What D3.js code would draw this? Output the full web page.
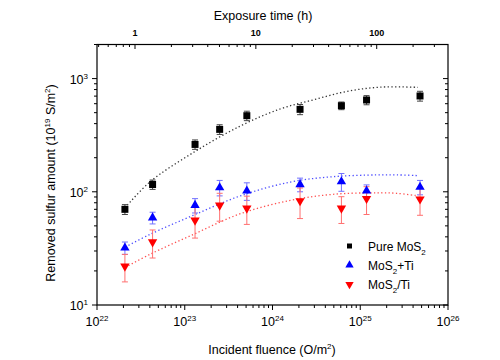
<!DOCTYPE html>
<html><head><meta charset="utf-8">
<script src="https://cdn.jsdelivr.net/npm/d3@7"></script>
<style>body{margin:0;background:#fff}svg{display:block}text{font-family:"Liberation Sans",Arial,sans-serif;fill:#000}</style>
</head><body><div id="c"></div>
<script>
// ---- data ----
const fluence = [2.08e22, 4.3e22, 1.31e23, 2.5e23, 5.1e23, 2.06e24, 6.1e24, 1.18e25, 4.8e25];
const pureMoS2 = [70, 116, 262, 356, 470, 535, 576, 647, 702];
const pureErr  = [7, 11, 25, 35, 45, 55, 45, 60, 70];
const mosTi    = [32, 59, 76, 109, 102, 116, 123, 102, 110];
const mosTiErr = [4, 7, 11, 17, 18, 16, 22, 13, 16];
const mosSlTi  = [22, 36, 56, 76, 71.5, 83, 71.5, 87, 86];
const mosSlTiErr = [6, 10, 17, 21, 20, 25, 19, 24, 24];
const fitXPure = [2.08e22, 4e22, 1.25e23, 4.27e23, 1.23e24, 2.95e24, 7.0e24, 1.7e25, 4.55e25];
const fitPure  = [72, 122, 222, 380, 540, 650, 770, 840, 837];
const fitX     = [2.1e22, 4e22, 1.25e23, 4.3e23, 1.6e24, 4.9e24, 1.55e25, 2.6e25, 4.6e25];
const fitTi    = [32.5, 42, 62, 92, 122, 136, 141, 141, 139];
const fitSlTi  = [21.5, 28, 42, 64, 84, 95, 98, 97, 92];
const xTickLabels = ["22", "23", "24", "25", "26"];
const yTickLabels = ["1", "2", "3"];
const hourTickLabels = ["1", "10", "100"];
const legendLabels = [["Pure MoS", "2", ""], ["MoS", "2", "+Ti"], ["MoS", "2", "/Ti"]];

// ---- layout ----
const W = 500, H = 360;
const L = 97, R = 448, T = 44.5, B = 305;
const svg = d3.select("#c").append("svg").attr("width", W).attr("height", H);

const x = d3.scaleLog().domain([1e22, 1e26]).range([L, R]);
const y = d3.scaleLog().domain([10, 2000]).range([B, T]);
const xh = d3.scaleLog().domain([0.4848, 389]).range([L, R]);

function logTicks(lo, hi) {
  const out = [];
  for (let e = Math.floor(Math.log10(lo)); e <= Math.ceil(Math.log10(hi)); e++) {
    for (let m = 1; m <= 9; m++) {
      const v = m * Math.pow(10, e);
      if (v >= lo * 0.9999 && v <= hi * 1.0001) out.push({v, major: m === 1});
    }
  }
  return out;
}

const g = svg.append("g");
g.append("rect").attr("x", L).attr("y", T).attr("width", R - L).attr("height", B - T)
  .attr("fill", "none").attr("stroke", "#000").attr("stroke-width", 1.2);

logTicks(1e22, 1e26).forEach(t => {
  const px = x(t.v);
  g.append("line").attr("x1", px).attr("x2", px).attr("y1", B).attr("y2", B + (t.major ? 5 : 3))
    .attr("stroke", "#000").attr("stroke-width", 1);
});
logTicks(10, 2000).forEach(t => {
  const py = y(t.v);
  const len = t.major ? 5 : 3;
  g.append("line").attr("x1", L - len).attr("x2", L).attr("y1", py).attr("y2", py).attr("stroke", "#000");
  g.append("line").attr("x1", R - len).attr("x2", R).attr("y1", py).attr("y2", py).attr("stroke", "#000");
});
logTicks(0.4848, 389).forEach(t => {
  const px = xh(t.v);
  g.append("line").attr("x1", px).attr("x2", px).attr("y1", T).attr("y2", T + (t.major ? 4.5 : 2.5))
    .attr("stroke", "#000");
});

xTickLabels.forEach((s, i) => {
  const t = g.append("text").attr("x", x(Math.pow(10, 22 + i))).attr("y", 326)
    .attr("text-anchor", "middle").attr("font-size", 12.5);
  t.append("tspan").text("10");
  t.append("tspan").attr("dy", -5).attr("font-size", 8).text(s);
});
yTickLabels.forEach((s, i) => {
  const t = g.append("text").attr("x", 88).attr("y", y(Math.pow(10, 1 + i)) + 5)
    .attr("text-anchor", "end").attr("font-size", 12.5);
  t.append("tspan").text("10");
  t.append("tspan").attr("dy", -5).attr("font-size", 8).text(s);
});
hourTickLabels.forEach((s, i) => {
  g.append("text").attr("x", xh(Math.pow(10, i))).attr("y", 36)
    .attr("text-anchor", "middle").attr("font-size", 9).attr("font-weight", "bold").text(s);
});

g.append("text").attr("x", 263).attr("y", 20).attr("text-anchor", "middle").attr("font-size", 12.5)
  .text("Exposure time (h)");
{
  const t = g.append("text").attr("x", 272).attr("y", 354).attr("text-anchor", "middle").attr("font-size", 12.5);
  t.append("tspan").text("Incident fluence (O/m");
  t.append("tspan").attr("dy", -5).attr("font-size", 8).text("2");
  t.append("tspan").attr("dy", 5).text(")");
}
{
  const t = g.append("text").attr("transform", "translate(55,183) rotate(-90)")
    .attr("text-anchor", "middle").attr("font-size", 12.5);
  t.append("tspan").text("Removed sulfur amount (10");
  t.append("tspan").attr("dy", -5).attr("font-size", 8).text("19");
  t.append("tspan").attr("dy", 5).text(" S/m");
  t.append("tspan").attr("dy", -5).attr("font-size", 8).text("2");
  t.append("tspan").attr("dy", 5).text(")");
}

// fit lines
const line = d3.line().x(d => x(d[0])).y(d => y(d[1])).curve(d3.curveCatmullRom.alpha(0.5));
[[fitXPure, fitPure, "#333"], [fitX, fitTi, "#4d4dff"], [fitX, fitSlTi, "#ff5050"]].forEach(([xs, vals, col]) => {
  g.append("path").attr("d", line(xs.map((v, i) => [v, vals[i]])))
    .attr("fill", "none").attr("stroke", col).attr("stroke-width", 1.3)
    .attr("stroke-dasharray", "1.3,2.4");
});

function errBars(vals, errs, col) {
  vals.forEach((v, i) => {
    const px = x(fluence[i]);
    const y1 = y(v + errs[i]), y2 = y(v - errs[i]);
    g.append("line").attr("x1", px).attr("x2", px).attr("y1", y1).attr("y2", y2).attr("stroke", col).attr("stroke-width", 1);
    [y1, y2].forEach(yy => g.append("line").attr("x1", px - 3).attr("x2", px + 3).attr("y1", yy).attr("y2", yy)
      .attr("stroke", col).attr("stroke-width", 1));
  });
}
errBars(pureMoS2, pureErr, "#444");
errBars(mosTi, mosTiErr, "#7070ff");
errBars(mosSlTi, mosSlTiErr, "#ff7070");

const sq = d3.symbol().type(d3.symbolSquare).size(49);
const tri = d3.symbol().type(d3.symbolTriangle).size(38);
pureMoS2.forEach((v, i) => g.append("path").attr("d", sq()).attr("transform", `translate(${x(fluence[i])},${y(v)})`).attr("fill", "#000"));
mosTi.forEach((v, i) => g.append("path").attr("d", tri()).attr("transform", `translate(${x(fluence[i])},${y(v)})`).attr("fill", "#0000ff"));
mosSlTi.forEach((v, i) => g.append("path").attr("d", tri()).attr("transform", `translate(${x(fluence[i])},${y(v)}) rotate(180)`).attr("fill", "#ff0000"));

const legY = [246, 265, 284.5];
const legSyms = [
  {d: d3.symbol().type(d3.symbolSquare).size(25)(), fill: "#000", rot: 0},
  {d: d3.symbol().type(d3.symbolTriangle).size(30)(), fill: "#0000ff", rot: 0},
  {d: d3.symbol().type(d3.symbolTriangle).size(30)(), fill: "#ff0000", rot: 180}
];
legendLabels.forEach((lab, i) => {
  g.append("path").attr("d", legSyms[i].d).attr("transform", `translate(349.5,${legY[i]}) rotate(${legSyms[i].rot})`).attr("fill", legSyms[i].fill);
  const t = g.append("text").attr("x", 368).attr("y", legY[i] + 4.5).attr("font-size", 12);
  t.append("tspan").text(lab[0]);
  t.append("tspan").attr("dy", 4).attr("font-size", 8).text(lab[1]);
  if (lab[2]) t.append("tspan").attr("dy", -4).text(lab[2]);
});
</script></body></html>
